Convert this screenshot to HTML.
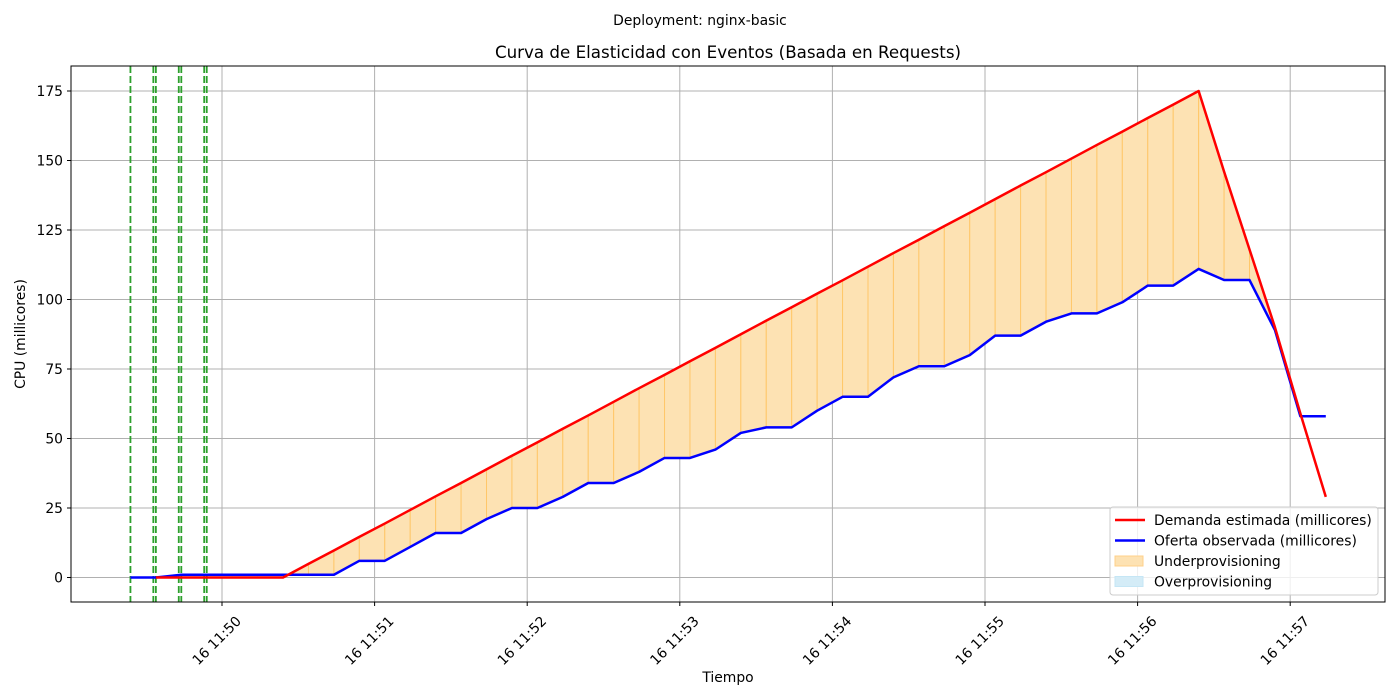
<!DOCTYPE html>
<html><head><meta charset="utf-8"><style>
body{margin:0;background:#fff;}
svg{display:block;font-family:"DejaVu Sans","Liberation Sans",sans-serif;}
</style></head><body>
<svg id="c" width="1400" height="700"></svg>
<script>
const startSec = -36; // seconds relative to 11:50:00 for index 0
const stepSec = 10;
const demand = [null,0,0,0,0,0,0,4.9,9.7,14.6,19.4,24.3,29.2,34,38.9,43.8,48.6,53.5,58.3,63.2,68.1,72.9,77.8,82.6,87.5,92.4,97.2,102.1,106.9,111.8,116.7,121.5,126.4,131.2,136.1,141,145.8,150.7,155.6,160.4,165.3,170.1,175,146,118,90,59,29];
const supply = [0,0,1,1,1,1,1,1,1,6,6,11,16,16,21,25,25,29,34,34,38,43,43,46,52,54,54,60,65,65,72,76,76,80,87,87,92,95,95,99,105,105,111,107,107,89,58,58];
const eventSecs = [-36,-27,-26,-17,-16,-7,-6];
const yTicks = [0,25,50,75,100,125,150,175];
const xTickMins = [0,1,2,3,4,5,6,7];
const xTickLabels = ["16 11:50","16 11:51","16 11:52","16 11:53","16 11:54","16 11:55","16 11:56","16 11:57"];

const L=71,R=1385,T=66,B=602;
const FS=13.9;
const xs = s => 222 + s*(152.6/60);
const ys = v => 577.5 - v*(486.5/175);
const NS="http://www.w3.org/2000/svg";
const svg=document.getElementById('c');
function mk(tag,attrs,parent){const e=document.createElementNS(NS,tag);for(const k in attrs)e.setAttribute(k,attrs[k]);(parent||svg).appendChild(e);return e;}
const tx = i => xs(startSec+i*stepSec);

let t=mk('text',{x:700,y:25,'text-anchor':'middle','font-size':FS});t.textContent='Deployment: nginx-basic';


t=mk('text',{x:728,y:58,'text-anchor':'middle','font-size':16.7});t.textContent='Curva de Elasticidad con Eventos (Basada en Requests)';



yTicks.forEach(v=>{const g=mk('line',{x1:L,x2:R,y1:ys(v),y2:ys(v),stroke:'#b0b0b0','stroke-width':1});


mk('line',{x1:L-4,x2:L,y1:ys(v),y2:ys(v),stroke:'#000'});
const lb=mk('text',{x:L-8,y:ys(v)+5,'text-anchor':'end','font-size':FS});lb.textContent=v;

});
xTickMins.forEach((m,i)=>{const x=xs(m*60);const g=mk('line',{x1:x,x2:x,y1:T,y2:B,stroke:'#b0b0b0','stroke-width':1});


mk('line',{x1:x,x2:x,y1:B,y2:B+4,stroke:'#000'});
const ax=x+20, ay=B+20;
const lb=mk('text',{x:ax,y:ay,'text-anchor':'end','font-size':FS,transform:`rotate(-45 ${ax} ${ay})`});lb.textContent=xTickLabels[i];

});

for(let i=1;i<demand.length-1;i++){
  const d0=demand[i],d1=demand[i+1],s0=supply[i],s1=supply[i+1];
  if(d0==null||d1==null)continue;
  const x0=tx(i),x1=tx(i+1);
  const diff0=d0-s0,diff1=d1-s1;
  const seg=(xa,da,sa,xb,db,sb,under)=>{
    const p=mk('polygon',{points:`${xa},${ys(da)} ${xb},${ys(db)} ${xb},${ys(sb)} ${xa},${ys(sa)}`,
      fill:under?'#fde2b3':'#d4ecf7',stroke:under?'#ffc76a':'#bfe3f3','stroke-width':1});
    
    
  };
  if(diff0>0&&diff1>0){seg(x0,d0,s0,x1,d1,s1,true);}
  else if(diff0<0&&diff1<0){seg(x0,d0,s0,x1,d1,s1,false);}
  else if(diff0<0&&diff1>0){const f=diff0/(diff0-diff1);const xm=x0+(x1-x0)*f;const vm=d0+(d1-d0)*f;
    seg(x0,d0,s0,xm,vm,vm,false);seg(xm,vm,vm,x1,d1,s1,true);}
}

eventSecs.forEach(s=>{const l=mk('line',{x1:xs(s),x2:xs(s),y1:T,y2:B,stroke:'#2ca02c','stroke-width':1.8,'stroke-dasharray':'7 3'});

});

function line(arr,color,name){let pts=[];arr.forEach((v,i)=>{if(v!=null)pts.push(`${tx(i)},${ys(v)}`);});
const p=mk('polyline',{points:pts.join(' '),fill:'none',stroke:color,'stroke-width':2.5,'stroke-linejoin':'round'});

}
line(supply,'#0000ff','supply-line');
line(demand,'#ff0000','demand-line');

const fr=mk('rect',{x:L,y:T,width:R-L,height:B-T,fill:'none',stroke:'#000','stroke-width':1});



t=mk('text',{x:728,y:682,'text-anchor':'middle','font-size':FS});t.textContent='Tiempo';


t=mk('text',{x:25,y:334,'text-anchor':'middle','font-size':FS,transform:'rotate(-90 25 334)'});t.textContent='CPU (millicores)';



const lg=mk('g',{});


mk('rect',{x:1110,y:507,width:268,height:88,rx:3,fill:'#fff','fill-opacity':0.8,stroke:'#ccc'},lg);
const items=[['Demanda estimada (millicores)','line','#ff0000'],['Oferta observada (millicores)','line','#0000ff'],['Underprovisioning','patch','#fde2b3'],['Overprovisioning','patch','#d4ecf7']];
items.forEach((it,k)=>{const y=520+k*20.5;
 if(it[1]==='line')mk('line',{x1:1115,x2:1145,y1:y,y2:y,stroke:it[2],'stroke-width':2.5},lg);
 else mk('rect',{x:1115,y:y-5,width:28,height:10,fill:it[2],stroke:it[2]==='#fde2b3'?'#ffd08a':'#c5e6f5'},lg);
 const e=mk('text',{x:1154,y:y+5,'font-size':FS},lg);e.textContent=it[0];
 
 });
</script>
</body></html>
